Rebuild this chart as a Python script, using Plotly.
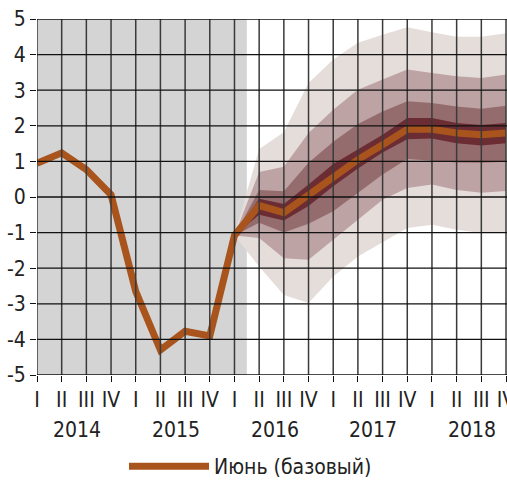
import plotly.graph_objects as go

# ---- data ----
quarter_labels = ["I", "II", "III", "IV"] * 5
years = ["2014", "2015", "2016", "2017", "2018"]
y_ticks = [-5, -4, -3, -2, -1, 0, 1, 2, 3, 4, 5]
y_tick_text = ["-5", "-4", "-3", "-2", "-1", "0", "1", "2", "3", "4", "5"]

# baseline (June) path, 2014 Q1 .. 2018 Q4
baseline = [0.95, 1.24, 0.77, 0.06, -2.65, -4.3, -3.77, -3.9,
            -1.08, -0.24, -0.44, 0.07, 0.57, 1.05, 1.47, 1.9,
            1.9, 1.8, 1.75, 1.8]

# fan chart intervals, 2016 Q1 .. 2018 Q4
fan_start = 8
light_lo = [-1.08, -1.95, -2.75, -2.98, -2.23, -1.67, -1.28, -0.87, -0.78, -0.92, -1.01, -1.01]
light_hi = [-1.08, 1.35, 1.82, 3.2, 3.86, 4.33, 4.56, 4.77, 4.63, 4.5, 4.5, 4.6]
med_lo = [-1.08, -1.15, -1.72, -1.76, -1.2, -0.64, -0.08, 0.25, 0.35, 0.2, 0.12, 0.17]
med_hi = [-1.08, 0.7, 0.85, 1.8, 2.45, 3.01, 3.3, 3.58, 3.48, 3.39, 3.34, 3.44]
third_lo = [-1.08, -0.72, -1.0, -0.75, -0.4, 0.12, 0.63, 1.07, 1.03, 0.97, 0.96, 0.99]
third_hi = [-1.08, 0.2, 0.16, 0.96, 1.55, 2.05, 2.4, 2.69, 2.64, 2.54, 2.48, 2.56]
dark_lo = [-1.08, -0.5, -0.66, -0.25, 0.3, 0.8, 1.25, 1.62, 1.64, 1.51, 1.45, 1.51]
dark_hi = [-1.08, -0.05, -0.2, 0.35, 0.93, 1.33, 1.75, 2.22, 2.22, 2.08, 2.02, 2.08]

shade_end = 8.5  # history shading ends mid 2016 Q1/Q2

# ---- style ----
FONT = ("Noto Sans ExtraCondensed, Noto Sans Condensed, Liberation Sans Narrow, "
        "DejaVu Sans Condensed, Roboto, sans-serif")
FS = 21
C_LIGHT = "#E5DDDA"
C_MED = "#BEA3A4"
C_THIRD = "#956C6E"
C_DARK = "#6B2D33"
C_LINE = "#A8541C"
C_SHADE = "#D4D4D4"

n = len(baseline)
idx = list(range(n))
fan_x = idx[fan_start:]

fig = go.Figure()

for lo, hi, col in [(light_lo, light_hi, C_LIGHT), (med_lo, med_hi, C_MED),
                    (third_lo, third_hi, C_THIRD), (dark_lo, dark_hi, C_DARK)]:
    fig.add_trace(go.Scatter(
        x=fan_x + fan_x[::-1], y=hi + lo[::-1], fill="toself",
        fillcolor=col, line=dict(width=0), mode="lines",
        showlegend=False, hoverinfo="skip"))

fig.add_trace(go.Scatter(
    x=idx, y=baseline, mode="lines", name="Июнь (базовый)",
    line=dict(color=C_LINE, width=7)))

shapes = [dict(type="rect", xref="x", yref="paper", x0=0, x1=shade_end,
               y0=0, y1=1, fillcolor=C_SHADE, line=dict(width=0), layer="below")]
for i in idx:
    shapes.append(dict(type="line", xref="x", yref="paper", x0=i, x1=i, y0=0, y1=1,
                       line=dict(color="#3a3a3a", width=1.5), layer="above"))
for v in y_ticks:
    shapes.append(dict(type="line", xref="paper", yref="y", x0=0, x1=1, y0=v, y1=v,
                       line=dict(color="#111111", width=1.3), layer="above"))

annotations = []
for k, yr in enumerate(years):
    annotations.append(dict(text=yr, x=4 * k + 1.5, y=0, xref="x", yref="paper",
                            xshift=3, yshift=-55, yanchor="middle",
                            showarrow=False, font=dict(family=FONT, size=FS, color="#222")))

fig.update_layout(
    width=507, height=480,
    margin=dict(l=37, r=0, t=19, b=105),
    plot_bgcolor="white", paper_bgcolor="white",
    font=dict(family=FONT, size=FS, color="#222"),
    shapes=shapes, annotations=annotations,
    showlegend=True,
    legend=dict(orientation="h", xref="container", yref="container",
                x=0.2446, xanchor="left", y=0.028, yanchor="middle",
                itemwidth=80, font=dict(family=FONT, size=FS, color="#222"),
                bgcolor="rgba(0,0,0,0)"),
    xaxis=dict(range=[0, 19.04], tickmode="array", tickvals=idx, ticktext=quarter_labels,
               showgrid=False, zeroline=False, ticks="outside", ticklen=6,
               tickcolor="#111", tickwidth=1.3, showline=False, automargin=False,
               ticklabeloverflow="allow",
               tickfont=dict(family=FONT, size=FS, color="#222")),
    yaxis=dict(range=[-5, 5], tickmode="array", tickvals=y_ticks, ticktext=y_tick_text,
               showgrid=False, zeroline=False, ticks="outside", ticklen=6,
               tickcolor="#111", tickwidth=1.3, showline=False, automargin=False,
               tickfont=dict(family=FONT, size=FS, color="#222")),
)

# remove the default 8px page margin so the 507x480 figure fills the window exactly
fig.write_html("out.html",
               config={"displayModeBar": False},
               post_script="document.body.style.margin='0';document.body.style.overflow='hidden';")
